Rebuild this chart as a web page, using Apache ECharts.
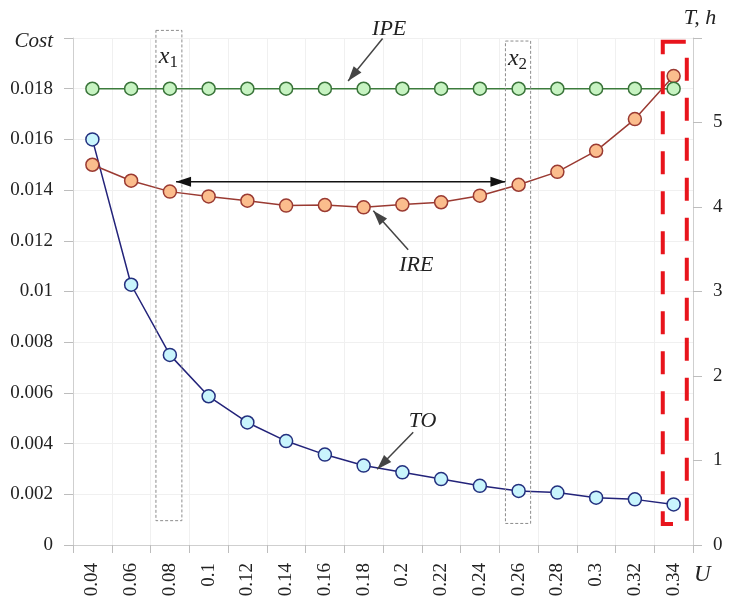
<!DOCTYPE html>
<html>
<head>
<meta charset="utf-8">
<script src="https://cdn.jsdelivr.net/npm/echarts@6/dist/echarts.min.js"></script>
<style>
html, body { margin: 0; padding: 0; background: #fff; }
#chart { width: 734px; height: 600px; }
</style>
</head>
<body>
<div id="chart"></div>
<script>
// x categories (U)
const categories = ['0.04', '0.06', '0.08', '0.1', '0.12', '0.14', '0.16', '0.18',
  '0.2', '0.22', '0.24', '0.26', '0.28', '0.3', '0.32', '0.34']
// Cost values, left axis
const ipeCost = [0.018, 0.018, 0.018, 0.018, 0.018, 0.018, 0.018, 0.018,
  0.018, 0.018, 0.018, 0.018, 0.018, 0.018, 0.018, 0.018]
const ireCost = [0.0150, 0.01437, 0.01394, 0.01375, 0.01358, 0.01339, 0.01341, 0.01332,
  0.01343, 0.01352, 0.01378, 0.01421, 0.01472, 0.01555, 0.01680, 0.01850]
// T, h values, right axis
const toHours = [4.80, 3.08, 2.25, 1.76, 1.45, 1.23, 1.07, 0.94,
  0.86, 0.78, 0.70, 0.64, 0.62, 0.56, 0.54, 0.48]

const font = 'Liberation Serif'
const txt = '#222'

const chart = echarts.init(document.getElementById('chart'))
chart.setOption({
  animation: false,
  grid: { left: 73, right: 41, top: 38, bottom: 55, outerBoundsMode: 'none' },
  xAxis: [{
    type: 'category',
    data: categories,
    boundaryGap: true,
    axisLine: { onZero: false, lineStyle: { color: '#cfcfcf' } },
    axisTick: { show: true, length: 8, lineStyle: { color: '#bdbdbd' } },
    axisLabel: { rotate: 90, margin: 18, fontFamily: font, fontSize: 19, color: txt },
    splitLine: { show: true, lineStyle: { color: '#f0f0f0' } }
  }, {
    // hidden helper axis in category-index units, used only to place notes
    type: 'value', min: -0.5, max: 15.5, show: false
  }],
  yAxis: [{
    type: 'value',
    min: 0,
    max: 0.02,
    interval: 0.002,
    axisLine: { show: true, onZero: false, lineStyle: { color: '#cfcfcf' } },
    axisTick: { show: true, length: 9, lineStyle: { color: '#bdbdbd' } },
    axisLabel: {
      margin: 20, fontFamily: font, fontSize: 19, color: txt,
      formatter: v => Math.abs(v - 0.02) < 1e-9 ? '{c|Cost}' : String(+v.toFixed(3)),
      rich: { c: { fontFamily: font, fontStyle: 'italic', fontSize: 21, color: txt, padding: [6, 0, 0, 0] } }
    },
    splitLine: { show: true, lineStyle: { color: '#f0f0f0' } }
  }, {
    type: 'value',
    position: 'right',
    min: 0,
    max: 6,
    interval: 1,
    name: 'T, h',
    nameLocation: 'end',
    nameGap: 9,
    nameTextStyle: { fontFamily: font, fontStyle: 'italic', fontSize: 22, color: txt, align: 'center', padding: [0, 0, 0, 14] },
    axisLine: { show: true, onZero: false, lineStyle: { color: '#cfcfcf' } },
    axisTick: { show: true, length: 9, lineStyle: { color: '#bdbdbd' } },
    axisLabel: {
      margin: 20, fontFamily: font, fontSize: 19, color: txt,
      formatter: v => v === 6 ? '' : String(v)
    },
    splitLine: { show: false }
  }],
  series: [{
    name: 'TO',
    type: 'line',
    yAxisIndex: 1,
    data: toHours,
    symbol: 'circle',
    symbolSize: 13,
    lineStyle: { color: '#23237a', width: 1.5 },
    itemStyle: { color: '#c9f5fd', borderColor: '#23307f', borderWidth: 1.5 }
  }, {
    name: 'IRE',
    type: 'line',
    data: ireCost,
    symbol: 'circle',
    symbolSize: 13,
    lineStyle: { color: '#9a3a32', width: 1.5 },
    itemStyle: { color: '#fbbd8d', borderColor: '#9a3a32', borderWidth: 1.5 }
  }, {
    name: 'IPE',
    type: 'line',
    data: ipeCost,
    symbol: 'circle',
    symbolSize: 13,
    lineStyle: { color: '#3c7c3c', width: 1.5 },
    itemStyle: { color: '#c7f3c2', borderColor: '#3a743a', borderWidth: 1.5 }
  }]
})

// notes placed in (category index, Cost) units
function px (i, v) {
  return chart.convertToPixel({ xAxisIndex: 1, yAxisIndex: 0 }, [i, v])
}
function box (i0, i1, v0, v1, style) {
  const a = px(i0, v1)
  const b = px(i1, v0)
  return { type: 'rect', z: 5, shape: { x: a[0], y: a[1], width: b[0] - a[0], height: b[1] - a[1] }, style: Object.assign({ fill: 'none' }, style) }
}
function head (tip, from, color) {
  const dx = tip[0] - from[0]
  const dy = tip[1] - from[1]
  const d = Math.hypot(dx, dy)
  const ux = dx / d
  const uy = dy / d
  const bx = tip[0] - ux * 15
  const by = tip[1] - uy * 15
  return { type: 'polygon', z: 6, shape: { points: [tip, [bx - uy * 5, by + ux * 5], [bx + uy * 5, by - ux * 5]] }, style: { fill: color } }
}
function arrow (from, tip, color, both) {
  const p0 = px(from[0], from[1])
  const p1 = px(tip[0], tip[1])
  const out = [{ type: 'line', z: 6, shape: { x1: p0[0], y1: p0[1], x2: p1[0], y2: p1[1] }, style: { stroke: color, lineWidth: 1.5 } }]
  out.push(head(p1, p0, color))
  if (both) out.push(head(p0, p1, color))
  return out
}
function label (i, v, text, size) {
  const p = px(i, v)
  return { type: 'text', z: 6, x: p[0], y: p[1], style: { text: text, fontFamily: font, fontStyle: 'italic', fontSize: size, fill: txt, align: 'center', verticalAlign: 'middle' } }
}
function sub (i, v, n) {
  const p = px(i, v)
  return {
    type: 'text', z: 6, x: p[0], y: p[1],
    style: {
      text: '{x|x}{s|' + n + '}', align: 'center', verticalAlign: 'middle',
      rich: {
        x: { fontFamily: font, fontStyle: 'italic', fontSize: 24, fill: txt },
        s: { fontFamily: font, fontSize: 17, fill: txt, padding: [12, 0, 0, 0] }
      }
    }
  }
}

const grey = { stroke: '#8c8c8c', lineWidth: 1, lineDash: [3, 2] }
chart.setOption({
  graphic: [
    box(1.64, 2.31, 0.00096, 0.0203, grey),
    box(10.66, 11.31, 0.00085, 0.01988, grey),
    box(14.72, 15.34, 0.00083, 0.01985, { stroke: '#e8141c', lineWidth: 4, lineDash: [23, 17] }),
    sub(1.96, 0.01925, 1),
    sub(10.97, 0.01918, 2),
    ...arrow([2.16, 0.01433], [10.66, 0.01433], '#111', true),
    label(7.66, 0.02035, 'IPE', 22),
    ...arrow([7.49, 0.01998], [6.60, 0.01830], '#444'),
    label(8.36, 0.01102, 'IRE', 22),
    ...arrow([8.15, 0.01165], [7.25, 0.01319], '#444'),
    label(8.52, 0.00488, 'TO', 22),
    ...arrow([8.28, 0.00445], [7.35, 0.00299], '#444'),
    label(15.74, -0.00118, 'U', 23)
  ]
})
</script>
</body>
</html>
